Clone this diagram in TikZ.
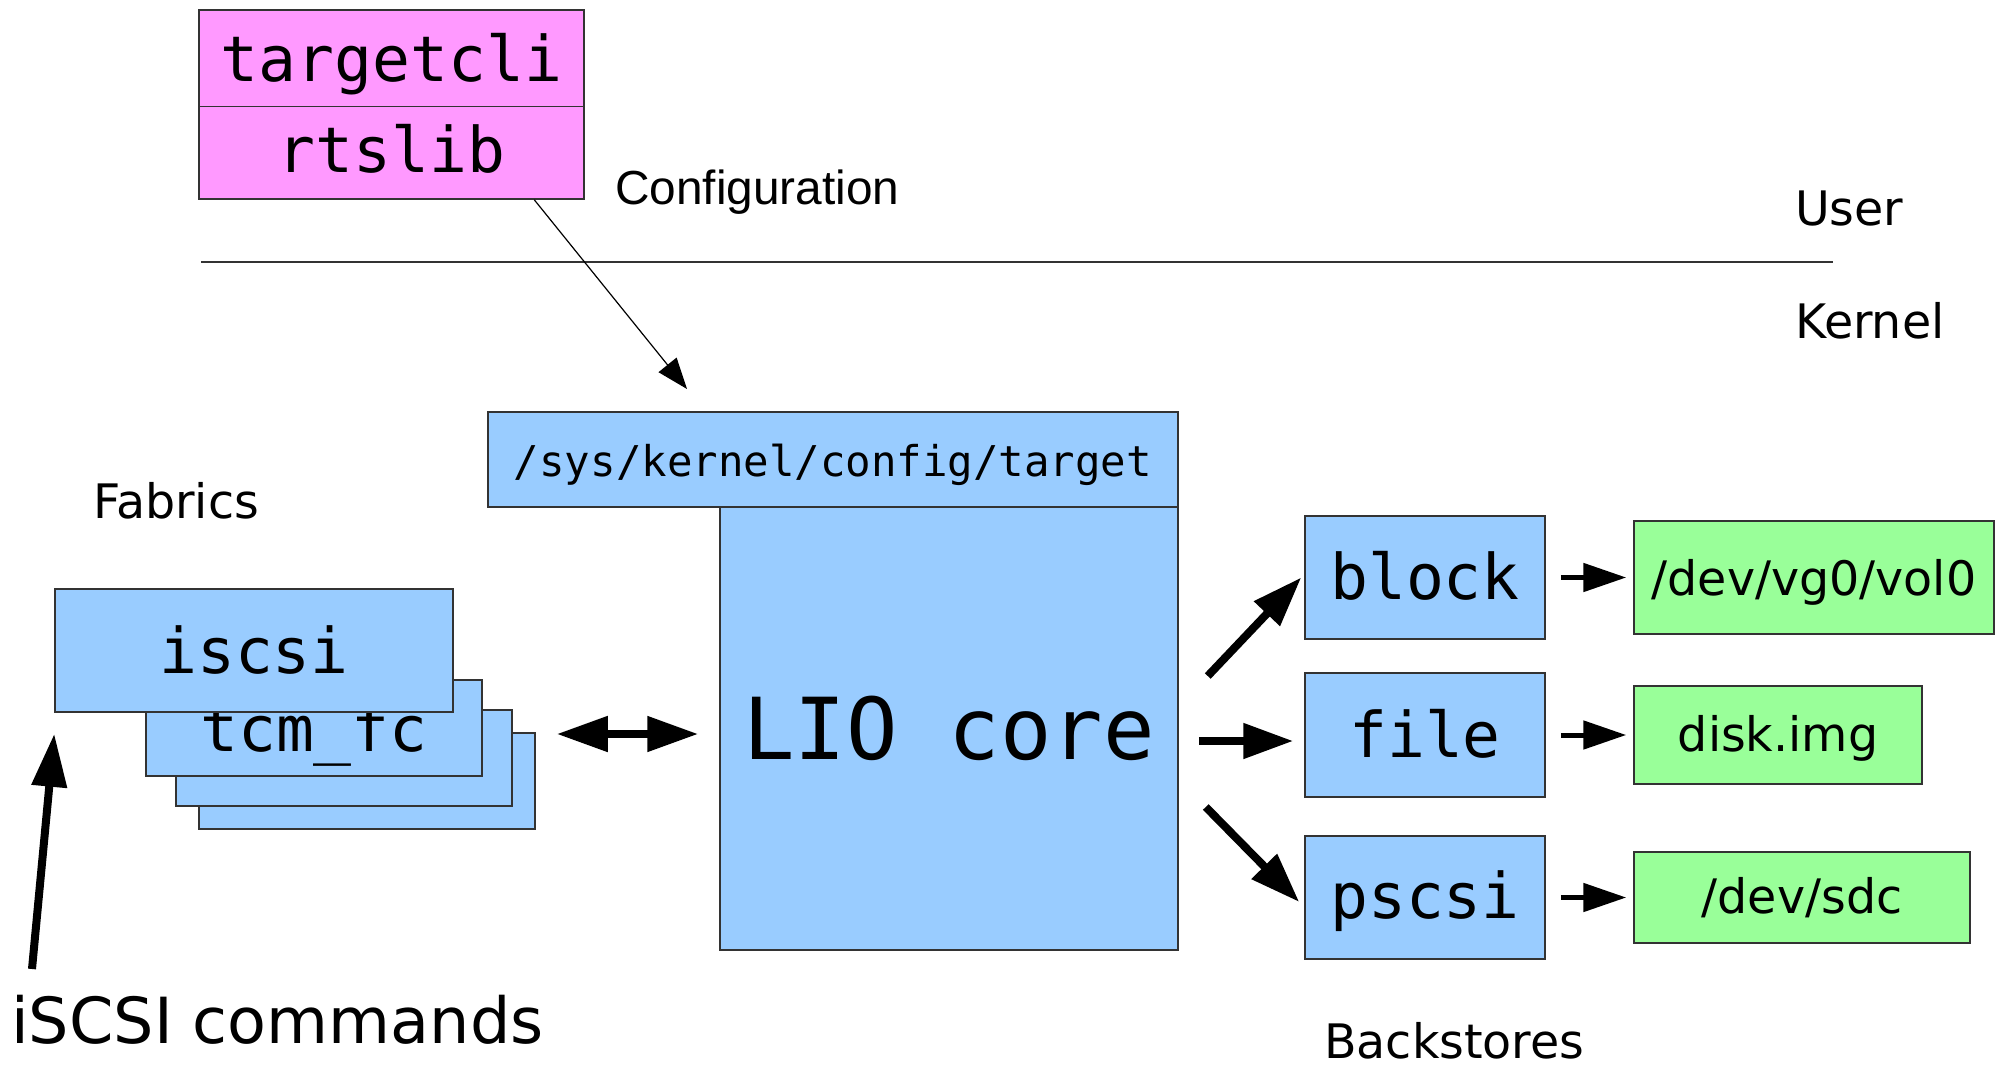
\documentclass[tikz,border=0pt]{standalone}
\usepackage{fontspec}
\setmainfont{DejaVu Sans}
\setmonofont{DejaVu Sans Mono}
\newfontfamily\libsans{Liberation Sans}
\usetikzlibrary{arrows.meta,calc}
\definecolor{pinkfill}{HTML}{FF99FF}
\definecolor{bluefill}{HTML}{99CCFF}
\definecolor{greenfill}{HTML}{99FF99}
\definecolor{edge}{HTML}{333333}
\tikzset{
  boxshape/.style={draw=edge, line width=1.5pt, inner sep=0pt, rectangle, align=center},
  pinkbox/.style={boxshape, fill=pinkfill},
  bluebox/.style={boxshape, fill=bluefill},
  greenbox/.style={boxshape, fill=greenfill},
  bl/.style={text height=#1, text depth=0pt},
  monobig/.style={font=\fontsize{63}{70}\selectfont\ttfamily},
  sansbig/.style={font=\fontsize{47.5}{55}\selectfont},
  plainlabel/.style={inner sep=0pt, anchor=base west},
  bigarrow/.style={line width=8pt, -{Triangle[length=50pt,width=34pt]}},
  smallarrow/.style={line width=5pt, -{Triangle[length=43pt,width=28pt]}},
  thinarrow/.style={line width=1.2pt, -{Triangle[length=31pt,width=23pt]}},
}
\begin{document}
\begin{tikzpicture}[x=1pt,y=-1pt]
\useasboundingbox (0,0) rectangle (2012,1067);

% user/kernel separator
\coordinate (sepL) at (201,262);
\coordinate (sepR) at (1833,262);
\draw[line width=1.5pt, edge] (sepL) -- (sepR);

% labels
\node[plainlabel, sansbig] (user) at (1795,226) {User};
\node[plainlabel, sansbig] (kernel) at (1795,338) {Kernel};
\node[plainlabel, font=\fontsize{47.8}{55}\selectfont\libsans] (config) at (615,205) {Configuration};
\node[plainlabel, sansbig] (fabrics) at (93,518) {Fabrics};
\node[plainlabel, sansbig] (backstores) at (1324,1058) {Backstores};
\node[plainlabel, font=\fontsize{63.6}{70}\selectfont] (cmds) at (11,1043) {iSCSI commands};

% user space tools
\node[pinkbox, monobig, minimum width=385pt, minimum height=96.5pt, bl=47.4pt] (tc) at (391.5,58.25) {targetcli};
\node[pinkbox, monobig, minimum width=385pt, minimum height=92.5pt, bl=40.4pt] (rts) at (391.5,152.75) {rtslib};

% LIO core
\node[bluebox, minimum width=458pt, minimum height=443pt, font=\fontsize{85.5}{90}\selectfont\ttfamily, bl=61pt] (lio) at (949,728.5) {LIO core};
\node[bluebox, minimum width=690pt, minimum height=95pt, font=\fontsize{42.4}{50}\selectfont\ttfamily, bl=33pt] (sysfs) at (833,459.5) {/sys/kernel/config/target};

% fabrics stack
\node[bluebox, minimum width=336pt, minimum height=96pt] (f4) at (367,781) {};
\node[bluebox, minimum width=336pt, minimum height=96pt] (f3) at (344,758) {};
\node[bluebox, monobig, minimum width=336pt, minimum height=96pt, bl=46pt] (tcm) at (314,728) {tcm\_fc};
\node[bluebox, monobig, minimum width=398pt, minimum height=123pt, bl=45pt] (iscsi) at (254,650.5) {iscsi};

% backstores
\node[bluebox, monobig, minimum width=240pt, minimum height=123pt, bl=43pt] (block) at (1425,577.5) {block};
\node[bluebox, monobig, minimum width=240pt, minimum height=124pt, bl=44pt] (file) at (1425,735) {file};
\node[bluebox, monobig, minimum width=240pt, minimum height=123pt, bl=41pt] (pscsi) at (1425,897.5) {pscsi};

% storage objects
\node[greenbox, sansbig, minimum width=360pt, minimum height=113pt, bl=35pt] (vg) at (1814,577.5) {/dev/vg0/vol0};
\node[greenbox, sansbig, minimum width=288pt, minimum height=98pt, bl=32pt] (disk) at (1778,735) {disk.img};
\node[greenbox, sansbig, minimum width=336pt, minimum height=91pt, bl=31pt] (sdc) at (1802,897.5) {/dev/sdc};

% connectors
\coordinate (cfgtip) at (687,389);
\draw[thinarrow] ([xshift=336pt]rts.south west) -- (cfgtip);

\draw[line width=8pt, {Triangle[length=51pt,width=34pt]}-{Triangle[length=51pt,width=34pt]}]
  ([xshift=21pt,yshift=47pt]f4.east) -- ([xshift=-21pt,yshift=-5.5pt]lio.west);

\coordinate (cmdtail) at (32,969);
\draw[line width=8pt, -{Triangle[length=53pt,width=34pt]}] (cmdtail) -- ([yshift=-21pt]iscsi.south west);

\draw[bigarrow] ([xshift=29pt,yshift=52.5pt]lio.east) -- ([xshift=-3pt]block.west);
\draw[bigarrow] ([xshift=20pt,yshift=-12.5pt]lio.east) -- ([xshift=-11pt,yshift=-6pt]file.west);
\draw[bigarrow] ([xshift=27pt,yshift=-78.5pt]lio.east) -- ([xshift=-5pt,yshift=-4.5pt]pscsi.west);

\draw[smallarrow] ([xshift=15pt]block.east) -- ([xshift=-7pt]vg.west);
\draw[smallarrow] ([xshift=15pt]file.east) -- ([xshift=-7pt]disk.west);
\draw[smallarrow] ([xshift=15pt]pscsi.east) -- ([xshift=-7pt]sdc.west);
\end{tikzpicture}
\end{document}
